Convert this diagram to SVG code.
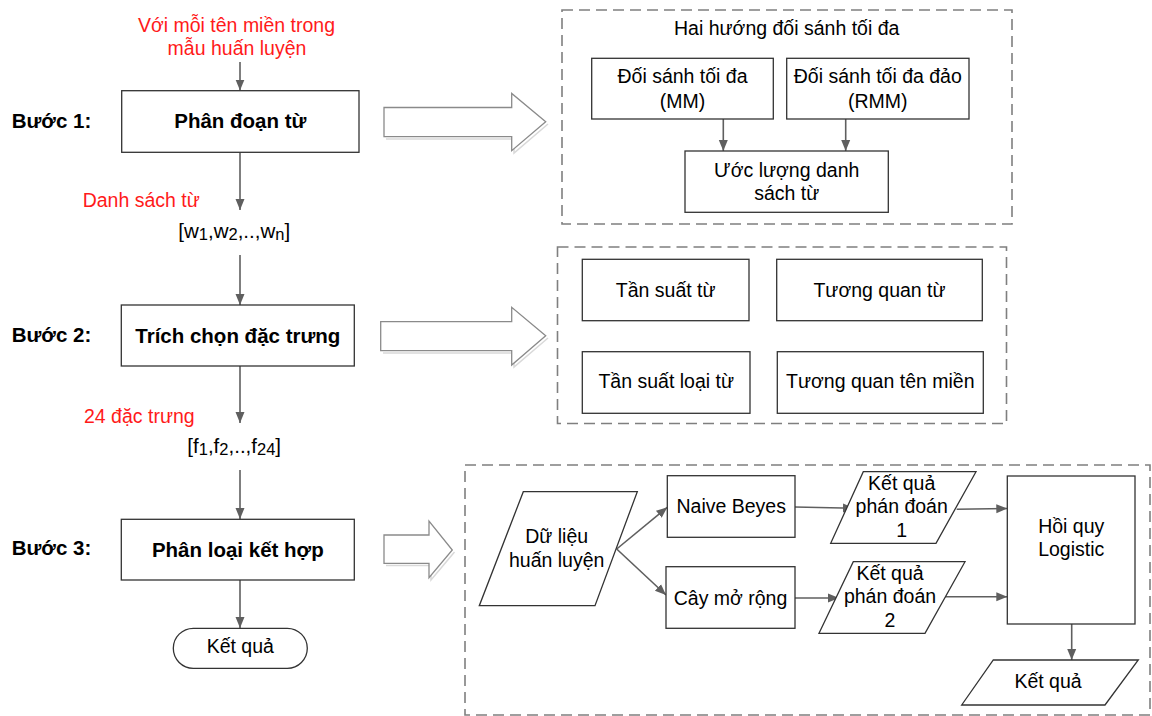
<svg xmlns="http://www.w3.org/2000/svg" width="1152" height="716" viewBox="0 0 1152 716">
  <style>
    text { font-family: "Liberation Sans", Arial, sans-serif; fill: #000; }
    .t { font-size: 19.5px; text-anchor: middle; }
    .b { font-size: 20.5px; font-weight: bold; }
    .bc { font-size: 20.5px; font-weight: bold; text-anchor: middle; }
    .red { font-size: 19.5px; fill: #ff1a1a; }
    .vec { font-size: 20.5px; }
    .sub { font-size: 16.5px; }
    .box { fill: #fff; stroke: #333; stroke-width: 1.3; }
    .group { fill: none; stroke: #7f7f7f; stroke-width: 1.6; stroke-dasharray: 11 6; }
    .link { fill: none; stroke: #5f5f5f; stroke-width: 1.6; marker-end: url(#head); }
    .big { fill: #fff; stroke: #8a8a8a; stroke-width: 1.3; }
    .shadow { fill: none; stroke: #d9d9d9; stroke-width: 1.5; }
  </style>
  <defs>
    <marker id="head" markerUnits="userSpaceOnUse" markerWidth="12" markerHeight="12" viewBox="0 0 12 12" refX="11" refY="6" orient="auto">
      <path d="M0,1.5 L11,6 L0,10.5 Z" fill="#5f5f5f"/>
    </marker>
  </defs>
  <rect width="1152" height="716" fill="#fff"/>

  <!-- dashed group frames -->
  <g id="frames">
    <rect class="group" x="562" y="10" width="450" height="214"/>
    <rect class="group" x="557.5" y="247" width="449" height="176.5"/>
    <rect class="group" x="465" y="465" width="685" height="250"/>
  </g>

  <!-- wide outline arrows pointing at the detail frames -->
  <g id="block-arrows">
    <path class="shadow" d="M386,139 L514,139 L514,153 L548,124"/>
    <path class="big" d="M384,107.5 L511.7,107.5 L511.7,93.5 L545.7,121.7 L511.7,150.7 L511.7,136.7 L384,136.7 Z"/>
    <path class="shadow" d="M383,353 L514,353 L514,367 L548,338"/>
    <path class="big" d="M380.7,321.7 L511.7,321.7 L511.7,307.3 L545.7,335.7 L511.7,365 L511.7,350.7 L380.7,350.7 Z"/>
    <path class="shadow" d="M386,565.5 L431,565.5 L431,580 L454.5,552"/>
    <path class="big" d="M384,535 L429,535 L429,521 L452.3,550 L429,577.7 L429,563.3 L384,563.3 Z"/>
  </g>

  <!-- connectors -->
  <g id="connectors">
    <path class="link" d="M240,62 L240,90.5"/>
    <path class="link" d="M240,152.3 L240,210"/>
    <path class="link" d="M240,255 L240,305"/>
    <path class="link" d="M240,366 L240,423"/>
    <path class="link" d="M240,470 L240,519"/>
    <path class="link" d="M240,580 L240,628"/>
    <path class="link" d="M723.3,119 L723.3,151"/>
    <path class="link" d="M845.7,119 L845.7,151"/>
    <path class="link" d="M616.7,549 L667.3,507.3"/>
    <path class="link" d="M616.7,549 L666,595"/>
    <path class="link" d="M795,507 L854,508.3"/>
    <path class="link" d="M795,598 L839,598"/>
    <path class="link" d="M956.7,509.3 L1007.3,508.5"/>
    <path class="link" d="M945,596.7 L1007.3,596.7"/>
    <path class="link" d="M1071.7,624 L1071.7,660"/>
  </g>

  <!-- main pipeline -->
  <g id="input-label">
    <text class="red" x="236.5" y="31.7" text-anchor="middle">Với mỗi tên miền trong</text>
    <text class="red" x="237" y="55" text-anchor="middle">mẫu huấn luyện</text>
  </g>
  <g id="step1">
    <text class="b" x="11.7" y="128.3">Bước 1:</text>
    <rect class="box" x="121.7" y="90.7" width="237.3" height="61.6"/>
    <text class="bc" x="240.3" y="128.3">Phân đoạn từ</text>
  </g>
  <g id="word-list">
    <text class="red" x="82.7" y="206.7">Danh sách từ</text>
    <text class="vec" x="178.3" y="238.3">[w<tspan class="sub" dy="2">1</tspan><tspan dy="-2">,w</tspan><tspan class="sub" dy="2">2</tspan><tspan dy="-2">,..,w</tspan><tspan class="sub" dy="2">n</tspan><tspan dy="-2">]</tspan></text>
  </g>
  <g id="step2">
    <text class="b" x="11.7" y="341.7">Bước 2:</text>
    <rect class="box" x="121.3" y="305" width="233" height="61"/>
    <text class="bc" x="237.8" y="343.3">Trích chọn đặc trưng</text>
  </g>
  <g id="feature-list">
    <text class="red" x="84" y="422.7">24 đặc trưng</text>
    <text class="vec" x="187.3" y="452.7">[f<tspan class="sub" dy="2">1</tspan><tspan dy="-2">,f</tspan><tspan class="sub" dy="2">2</tspan><tspan dy="-2">,..,f</tspan><tspan class="sub" dy="2">24</tspan><tspan dy="-2">]</tspan></text>
  </g>
  <g id="step3">
    <text class="b" x="11.7" y="555">Bước 3:</text>
    <rect class="box" x="121.3" y="519.3" width="233" height="60.7"/>
    <text class="bc" x="237.8" y="556.7">Phân loại kết hợp</text>
  </g>
  <g id="result">
    <rect class="box" x="173.3" y="628.3" width="134" height="40" rx="20" ry="20"/>
    <text class="t" x="240.3" y="653.3">Kết quả</text>
  </g>

  <!-- word segmentation detail -->
  <g id="mm-title">
    <text class="t" x="786.7" y="35">Hai hướng đối sánh tối đa</text>
  </g>
  <g id="mm">
    <rect class="box" x="591.7" y="58.3" width="181.6" height="60.7"/>
    <text class="t" x="682.5" y="83.3">Đối sánh tối đa</text>
    <text class="t" x="682.5" y="108.3">(MM)</text>
  </g>
  <g id="rmm">
    <rect class="box" x="786.7" y="58.3" width="182.3" height="60.7"/>
    <text class="t" x="877.8" y="83.3">Đối sánh tối đa đảo</text>
    <text class="t" x="877.8" y="108.3">(RMM)</text>
  </g>
  <g id="estimate">
    <rect class="box" x="685" y="151" width="203.3" height="61.3"/>
    <text class="t" x="786.7" y="176.7">Ước lượng danh</text>
    <text class="t" x="786.7" y="200">sách từ</text>
  </g>

  <!-- feature detail -->
  <g id="f-word-freq">
    <rect class="box" x="582.3" y="259.3" width="166.7" height="61.4"/>
    <text class="t" x="665.7" y="296.7">Tần suất từ</text>
  </g>
  <g id="f-word-corr">
    <rect class="box" x="776.7" y="259.3" width="205.6" height="61.4"/>
    <text class="t" x="879.5" y="296.7">Tương quan từ</text>
  </g>
  <g id="f-type-freq">
    <rect class="box" x="582.3" y="351.7" width="167.7" height="61.6"/>
    <text class="t" x="666.2" y="388.3">Tần suất loại từ</text>
  </g>
  <g id="f-domain-corr">
    <rect class="box" x="777.3" y="351.7" width="206" height="61.6"/>
    <text class="t" x="880.3" y="388.3">Tương quan tên miền</text>
  </g>

  <!-- classifier ensemble detail -->
  <g id="train-data">
    <path class="box" d="M523.3,491.7 L637.3,491.7 L595,605.7 L479.3,605.7 Z"/>
    <text class="t" x="556.7" y="543.3">Dữ liệu</text>
    <text class="t" x="556.7" y="567.3">huấn luyện</text>
  </g>
  <g id="naive-bayes">
    <rect class="box" x="667.3" y="475.7" width="127.7" height="61.6"/>
    <text class="t" x="731.2" y="513.3">Naive Beyes</text>
  </g>
  <g id="tree">
    <rect class="box" x="666" y="566.7" width="129" height="61.6"/>
    <text class="t" x="730.5" y="605">Cây mở rộng</text>
  </g>
  <g id="pred1">
    <path class="box" d="M863.3,471.7 L976,471.7 L936,543.3 L830.7,543.3 Z"/>
    <text class="t" x="901.7" y="490">Kết quả</text>
    <text class="t" x="901.7" y="513.3">phán đoán</text>
    <text class="t" x="901.7" y="537.3">1</text>
  </g>
  <g id="pred2">
    <path class="box" d="M853.3,561.7 L965,561.7 L925,633.3 L819,633.3 Z"/>
    <text class="t" x="890" y="580">Kết quả</text>
    <text class="t" x="890" y="603.3">phán đoán</text>
    <text class="t" x="890" y="627.3">2</text>
  </g>
  <g id="logistic">
    <rect class="box" x="1007.3" y="476" width="127.7" height="148"/>
    <text class="t" x="1071.2" y="533.3">Hồi quy</text>
    <text class="t" x="1071.2" y="556">Logistic</text>
  </g>
  <g id="final">
    <path class="box" d="M993.3,660 L1138.3,660 L1105,705 L961.7,705 Z"/>
    <text class="t" x="1048" y="688.3">Kết quả</text>
  </g>
</svg>
